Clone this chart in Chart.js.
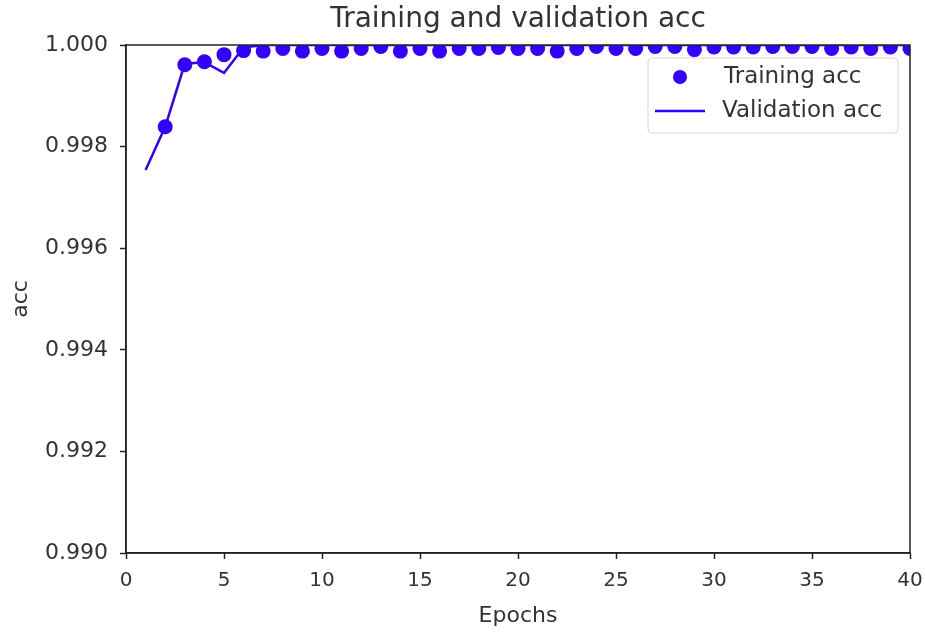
<!DOCTYPE html>
<html>
<head>
<meta charset="utf-8">
<script src="https://cdn.jsdelivr.net/npm/chart.js@4.4.1/dist/chart.umd.min.js"></script>
<style>
  html, body { margin: 0; padding: 0; background: #fff; }
  #wrap { width: 925px; height: 633px; }
</style>
</head>
<body>
<div id="wrap"><canvas id="accChart" width="925" height="633"></canvas></div>
<script>
// epochs 1..40
const epochs = Array.from({ length: 40 }, (_, i) => i + 1);

// training acc (dots); epoch 1 sits below the visible range
const trainAcc = [
    null, 0.99839, 0.99961, 0.99967, 0.99981, 0.99989, 0.99988, 0.99993, 0.99988, 0.99993,
    0.99988, 0.99993, 0.99997, 0.99988, 0.99993, 0.99988, 0.99993, 0.99993, 0.99995, 0.99993,
    0.99993, 0.99988, 0.99993, 0.99997, 0.99993, 0.99993, 0.99997, 0.99997, 0.99991, 0.99996,
    0.99996, 0.99996, 0.99997, 0.99997, 0.99997, 0.99993, 0.99996, 0.99993, 0.99996, 0.99993
];

// validation acc (line)
const valAcc = [
    0.99754, 0.99839, 0.99963, 0.99966, 0.99945, 0.99995, 1.0, 1.0, 1.0, 1.0,
    1.0, 1.0, 1.0, 1.0, 1.0, 1.0, 1.0, 1.0, 1.0, 1.0,
    1.0, 1.0, 1.0, 1.0, 1.0, 1.0, 1.0, 1.0, 1.0, 1.0,
    1.0, 1.0, 1.0, 1.0, 1.0, 1.0, 1.0, 1.0, 1.0, 1.0
];

const xTicks = [0, 5, 10, 15, 20, 25, 30, 35, 40];
const yTicks = [0.990, 0.992, 0.994, 0.996, 0.998, 1.000];

const BLUE = '#3300ff';
const FONT = "'DejaVu Sans', sans-serif";

function toPoints(values) {
    return epochs.map((e, i) => ({ x: e, y: values[i] }));
}

// top/right spines
const framePlugin = {
    id: 'frame',
    afterDatasetsDraw(chart) {
        const { ctx, chartArea: a } = chart;
        ctx.save();
        ctx.strokeStyle = '#222';
        ctx.lineWidth = 1.5;
        ctx.strokeRect(a.left, a.top, a.right - a.left, a.bottom - a.top);
        ctx.restore();
    }
};

// matplotlib style legend inside the plot, upper right
const legendPlugin = {
    id: 'innerLegend',
    afterDraw(chart) {
        const { ctx, chartArea: a } = chart;
        const w = 250, h = 75;
        const x = a.right - 12 - w, y = a.top + 13;
        ctx.save();
        ctx.fillStyle = 'rgba(255,255,255,0.85)';
        ctx.strokeStyle = '#d6d6d6';
        ctx.lineWidth = 1;
        ctx.beginPath();
        ctx.roundRect(x, y, w, h, 4);
        ctx.fill();
        ctx.stroke();

        ctx.font = '23px ' + FONT;
        ctx.textBaseline = 'middle';
        const sets = chart.data.datasets;

        // dot entry
        ctx.fillStyle = BLUE;
        ctx.beginPath();
        ctx.arc(x + 32, y + 19, 7, 0, Math.PI * 2);
        ctx.fill();
        ctx.fillStyle = '#333';
        ctx.fillText(sets[0].label, x + 76, y + 19);

        // line entry
        ctx.strokeStyle = BLUE;
        ctx.lineWidth = 2.5;
        ctx.beginPath();
        ctx.moveTo(x + 7, y + 53);
        ctx.lineTo(x + 57, y + 53);
        ctx.stroke();
        ctx.fillText(sets[1].label, x + 74, y + 53);
        ctx.restore();
    }
};

new Chart(document.getElementById('accChart'), {
    type: 'scatter',
    data: {
        datasets: [
            {
                label: 'Training acc',
                data: toPoints(trainAcc),
                showLine: false,
                pointRadius: 7.5,
                pointHoverRadius: 7.5,
                pointBackgroundColor: BLUE,
                pointBorderWidth: 0,
                clip: 0,
                order: 1
            },
            {
                label: 'Validation acc',
                data: toPoints(valAcc),
                showLine: true,
                borderColor: BLUE,
                borderWidth: 2.5,
                pointRadius: 0,
                tension: 0,
                clip: 0,
                order: 2
            }
        ]
    },
    options: {
        responsive: false,
        animation: false,
        layout: { padding: { left: 0, right: 15, top: 0, bottom: 0 } },
        plugins: {
            legend: { display: false },
            tooltip: { enabled: false },
            title: {
                display: true,
                fullSize: false,
                text: 'Training and validation acc',
                color: '#333',
                font: { family: FONT, size: 28, weight: 'normal' },
                lineHeight: 1.2,
                padding: { top: 3, bottom: 8.4 }
            }
        },
        scales: {
            x: {
                type: 'linear',
                min: 0,
                max: 40,
                afterBuildTicks(scale) {
                    scale.ticks = xTicks.map(v => ({ value: v }));
                },
                afterFit(scale) {
                    scale.height = 80;
                    scale.paddingLeft = 0;
                    scale.paddingRight = 0;
                },
                grid: { display: true, drawOnChartArea: false, drawTicks: true, tickLength: 6, tickColor: '#222', tickWidth: 1.5 },
                border: { display: true, color: '#222', width: 1.5 },
                ticks: { color: '#333', font: { family: FONT, size: 20 }, padding: 10, maxRotation: 0 },
                title: { display: true, text: 'Epochs', color: '#333', font: { family: FONT, size: 22 }, padding: { top: 0 } }
            },
            y: {
                min: 0.990,
                max: 1.000,
                afterBuildTicks(scale) {
                    scale.ticks = yTicks.map(v => ({ value: v }));
                },
                afterFit(scale) { scale.width = 126; },
                grid: { display: true, drawOnChartArea: false, drawTicks: true, tickLength: 6, tickColor: '#222', tickWidth: 1.5 },
                border: { display: true, color: '#222', width: 1.5 },
                ticks: {
                    color: '#333',
                    font: { family: FONT, size: 22 },
                    padding: 12,
                    callback: v => v.toFixed(3)
                },
                title: { display: true, text: 'acc', color: '#333', font: { family: FONT, size: 22 }, padding: { top: 8, bottom: 6 } }
            }
        }
    },
    plugins: [framePlugin, legendPlugin]
});
</script>
</body>
</html>
